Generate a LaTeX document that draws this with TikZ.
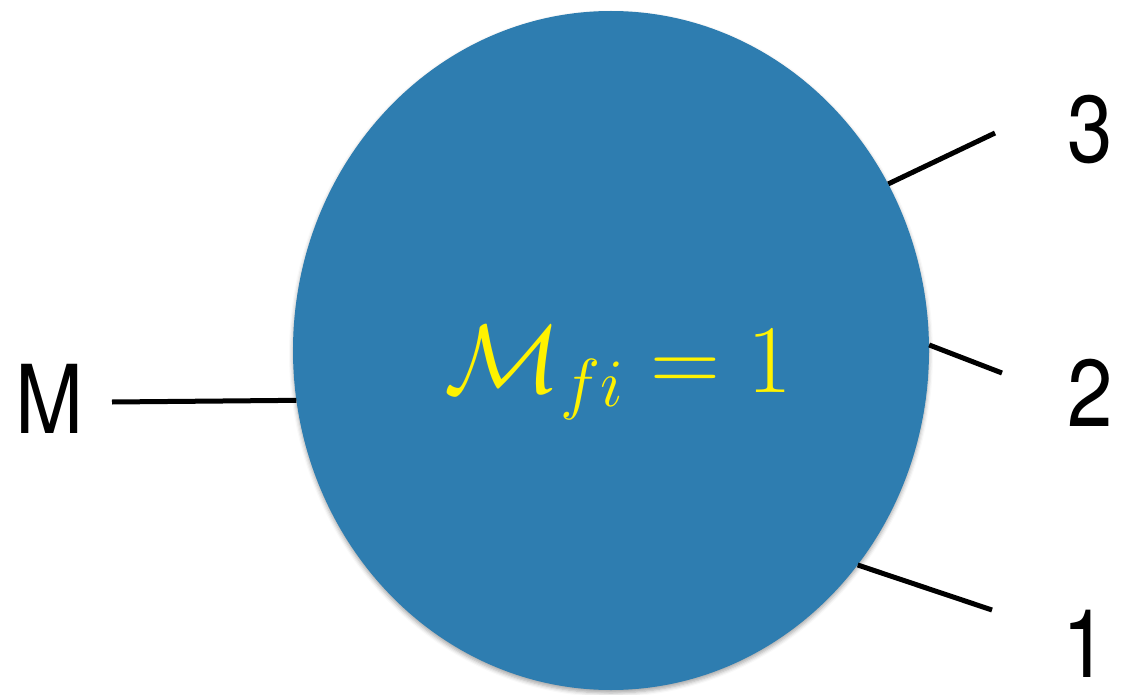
\RequirePackage{fix-cm}
\documentclass[tikz,border=0pt]{standalone}
\usepackage{fontspec}
\setsansfont[FakeStretch=0.86]{TeX Gyre Heros}
\usetikzlibrary{shapes.geometric,shadows.blur}
\definecolor{blobblue}{RGB}{46,125,176}
\definecolor{mathyellow}{RGB}{255,242,0}
\tikzset{
  blob/.style={ellipse, fill=blobblue, draw=none, minimum width=636pt, minimum height=679pt, inner sep=0pt,
    blur shadow={shadow xshift=0pt, shadow yshift=-3pt, shadow blur radius=4pt, shadow opacity=35}},
  leg/.style={line width=5pt, black},
  lbl/.style={font=\sffamily\fontsize{95}{100}\selectfont, anchor=base, inner sep=0pt},
  mathlbl/.style={text=mathyellow, anchor=base, inner sep=0pt, font=\fontsize{97}{110}\selectfont}
}
\begin{document}
\begin{tikzpicture}[x=1pt,y=-1pt]
\useasboundingbox (0,0) rectangle (1121,695);
\node[blob] (blob) at (611,350.5) {};
\node[mathlbl] (amp) at (618,392) {$\mathcal{M}_{fi} = 1$};
\node[lbl] (M) at (50,433) {M};
\node[lbl] (three) at (1090,163) {3};
\node[lbl] (two) at (1090,426) {2};
\node[lbl] (one) at (1085,677) {1};
\coordinate (eM) at (112,402);
\coordinate (e3) at (995,133);
\coordinate (e2) at (1002,373);
\coordinate (e1) at (992,610);
\draw[leg] (blob.189.3) -- (eM);
\draw[leg] (blob.31.05) -- (e3);
\draw[leg] (blob.1.26) -- (e2);
\draw[leg] (blob.-41.07) -- (e1);
\end{tikzpicture}
\end{document}
